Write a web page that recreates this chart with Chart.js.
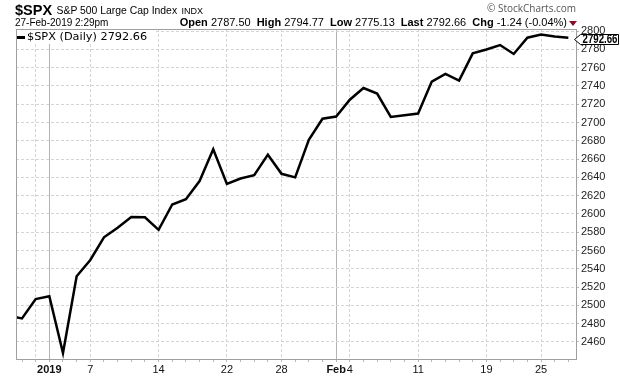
<!DOCTYPE html>
<html><head><meta charset="utf-8">
<script src="https://cdn.jsdelivr.net/npm/chart.js@4/dist/chart.umd.min.js"></script>
<style>
html,body{margin:0;padding:0;background:#fff;}
#wrap{position:relative;width:620px;height:376px;overflow:hidden;font-family:"Liberation Sans",Arial,sans-serif;color:#000;}
canvas{position:absolute;left:0;top:0;}
.t{position:absolute;white-space:nowrap;line-height:1;}
</style></head><body>
<div id="wrap">
<canvas id="c" width="620" height="376"></canvas>
<div class="t" id="title" style="left:15px;top:2px;"></div>
<div class="t" id="stamp" style="left:15px;top:18px;font-size:10px;"></div>
<div class="t" id="info" style="right:53px;top:17px;font-size:11px;"></div>
<div style="position:absolute;left:569px;top:21px;width:0;height:0;border-left:4px solid transparent;border-right:4px solid transparent;border-top:5px solid #8a0b2e;"></div>
<div class="t" id="brand" style="left:487px;top:3px;font-family:'Open Sans',sans-serif;font-size:10px;color:#555;"></div>
<div id="legend" style="position:absolute;left:17px;top:30px;width:138px;height:14px;background:#fff;">
  <div style="position:absolute;left:0px;top:6px;width:8px;height:2.5px;background:#000;"></div>
  <div class="t" id="legtext" style="left:10px;top:1px;font-family:'DejaVu Sans',sans-serif;font-size:11.3px;"></div>
</div>
</div>
<script>
// ---- data ----
const dates = ['2018-12-27','2018-12-28','2018-12-31','2019-01-02','2019-01-03','2019-01-04','2019-01-07','2019-01-08','2019-01-09','2019-01-10','2019-01-11','2019-01-14','2019-01-15','2019-01-16','2019-01-17','2019-01-18','2019-01-22','2019-01-23','2019-01-24','2019-01-25','2019-01-28','2019-01-29','2019-01-30','2019-01-31','2019-02-01','2019-02-04','2019-02-05','2019-02-06','2019-02-07','2019-02-08','2019-02-11','2019-02-12','2019-02-13','2019-02-14','2019-02-15','2019-02-19','2019-02-20','2019-02-21','2019-02-22','2019-02-25','2019-02-26','2019-02-27'];
const closes = [2488.8,2485.7,2506.9,2510.0,2447.9,2531.9,2549.7,2574.4,2585.0,2596.6,2596.3,2582.6,2610.3,2616.1,2636.0,2670.7,2632.9,2638.7,2642.3,2664.8,2643.9,2640.0,2681.1,2704.1,2706.5,2724.9,2737.7,2731.6,2706.1,2707.9,2709.8,2744.7,2753.0,2745.7,2775.6,2779.8,2784.7,2774.9,2792.7,2796.1,2793.9,2792.66];
const tickDates = ['2018-12-31','2019-01-02','2019-01-07','2019-01-14','2019-01-22','2019-01-28','2019-02-01','2019-02-04','2019-02-11','2019-02-19','2019-02-25'];
const tickLabels = ['','2019','7','14','22','28','Feb','4','11','19','25'];
const boldLabels = ['2019','Feb'];
const monthStartDates = ['2019-01-02','2019-02-01'];
const yTickValues = [2460,2480,2500,2520,2540,2560,2580,2600,2620,2640,2660,2680,2700,2720,2740,2760,2780,2800];
const lastValue = 2792.66;
const symbol = '$SPX';
const symbolName = 'S&P 500 Large Cap Index';
const exchange = 'INDX';
const stampText = '27-Feb-2019 2:29pm';
const infoLabels = ['Open','High','Low','Last','Chg'];
const infoValues = ['2787.50','2794.77','2775.13','2792.66','-1.24 (-0.04%)'];

// ---- header text ----
const esc = s => s.replace(/&/g,'&amp;');
document.getElementById('title').innerHTML =
  '<span style="font-weight:bold;font-size:14.5px;">'+esc(symbol)+'</span> <span style="font-size:10.4px;position:relative;top:-1px;">'+esc(symbolName)+'</span> <span style="font-size:9px;position:relative;top:-1px;">'+exchange+'</span>';
document.getElementById('stamp').textContent = stampText;
document.getElementById('info').innerHTML = infoLabels.map((l,i)=>'<b style="font-size:11px">'+l+'</b> '+infoValues[i]).join('<span style="display:inline-block;width:6px"></span>');
document.getElementById('brand').textContent = '\u00A9 StockCharts.com';
document.getElementById('legtext').textContent = symbol + ' (Daily) ' + lastValue.toFixed(2);

const tickIdx = tickDates.map(d => dates.indexOf(d));
const monthIdx = monthStartDates.map(d => dates.indexOf(d));
const labelFor = v => { const k = tickIdx.indexOf(v); return k >= 0 ? tickLabels[k] : ''; };

const framePlugin = {
  id: 'frame',
  afterDatasetsDraw(chart) {
    const {ctx, chartArea: a} = chart;
    ctx.save();
    ctx.strokeStyle = '#a0a0a0'; ctx.lineWidth = 1;
    ctx.strokeRect(a.left + 0.5, a.top + 0.5, a.right - a.left, a.bottom - a.top);
    ctx.restore();
  },
  afterDraw(chart) {
    const ctx = chart.ctx, ys = chart.scales.y, a = chart.chartArea;
    const y = Math.round(ys.getPixelForValue(lastValue)) + 1;
    const x0 = a.right - 2, x1 = x0 + 6, x2 = 619;
    ctx.save();
    ctx.beginPath();
    ctx.moveTo(x0 + 0.5, y + 0.5);
    ctx.lineTo(x1 + 0.5, y - 5 + 0.5);
    ctx.lineTo(x2 - 0.5, y - 5 + 0.5);
    ctx.lineTo(x2 - 0.5, y + 5 + 0.5);
    ctx.lineTo(x1 + 0.5, y + 5 + 0.5);
    ctx.closePath();
    ctx.fillStyle = '#fff'; ctx.fill();
    ctx.strokeStyle = '#000'; ctx.lineWidth = 1; ctx.stroke();
    ctx.fillStyle = '#000';
    ctx.font = 'bold 12.5px "Liberation Sans", Arial, sans-serif';
    ctx.textAlign = 'center'; ctx.textBaseline = 'middle';
    ctx.fillText(lastValue.toFixed(2), (x1 + x2) / 2 + 0.5, y + 1, x2 - x1 - 4);
    ctx.restore();
  }
};

new Chart(document.getElementById('c'), {
  type: 'line',
  data: {
    datasets: [{
      data: closes.map((v, i) => ({x: i, y: v})),
      borderColor: '#000', borderWidth: 2.5, pointRadius: 0, tension: 0,
      clip: 0, borderJoinStyle: 'miter'
    }]
  },
  options: {
    responsive: false, animation: false, devicePixelRatio: 1,
    layout: {padding: {top: 29, left: 16, right: 0, bottom: 0}},
    plugins: {legend: {display: false}, tooltip: {enabled: false}},
    scales: {
      x: {
        type: 'linear', min: 0.56, max: 41.56,
        afterBuildTicks: s => { s.ticks = dates.map((d, i) => ({value: i})).filter(t => t.value >= 0.56 && t.value <= 41.56); },
        afterFit: s => { s.height = 17; },
        ticks: {
          autoSkip: false, maxRotation: 0, padding: 1, color: '#111',
          callback: v => labelFor(v),
          font: c => ({family: '"Liberation Sans", Arial, sans-serif', size: 11,
                       weight: (c.tick && boldLabels.includes(labelFor(c.tick.value))) ? 'bold' : 'normal'})
        },
        grid: {
          tickLength: 3,
          color: c => { if (!c.tick) return 'rgba(0,0,0,0)'; const v = c.tick.value;
            if (monthIdx.includes(v)) return '#b4b4b4'; if (tickIdx.includes(v)) return '#d4d4d4'; return 'rgba(0,0,0,0)'; },
          tickColor: c => (c.tick && monthIdx.includes(c.tick.value)) ? '#b4b4b4' : '#b8b8b8',
          lineWidth: 1
        },
        border: {display: false, dash: c => (c.tick && monthIdx.includes(c.tick.value)) ? [] : [3, 2]}
      },
      y: {
        position: 'right', min: 2441.4, max: 2802.2,
        afterBuildTicks: s => { s.ticks = yTickValues.map(v => ({value: v})); },
        afterFit: s => { s.width = 44; },
        ticks: {padding: 2, color: '#222', font: {family: '"Liberation Sans", Arial, sans-serif', size: 11},
                callback: v => String(v)},
        grid: {color: '#d4d4d4', tickLength: 3, tickColor: '#b8b8b8', lineWidth: 1},
        border: {display: false, dash: [3, 2]}
      }
    }
  },
  plugins: [framePlugin]
});
</script>
</body></html>
